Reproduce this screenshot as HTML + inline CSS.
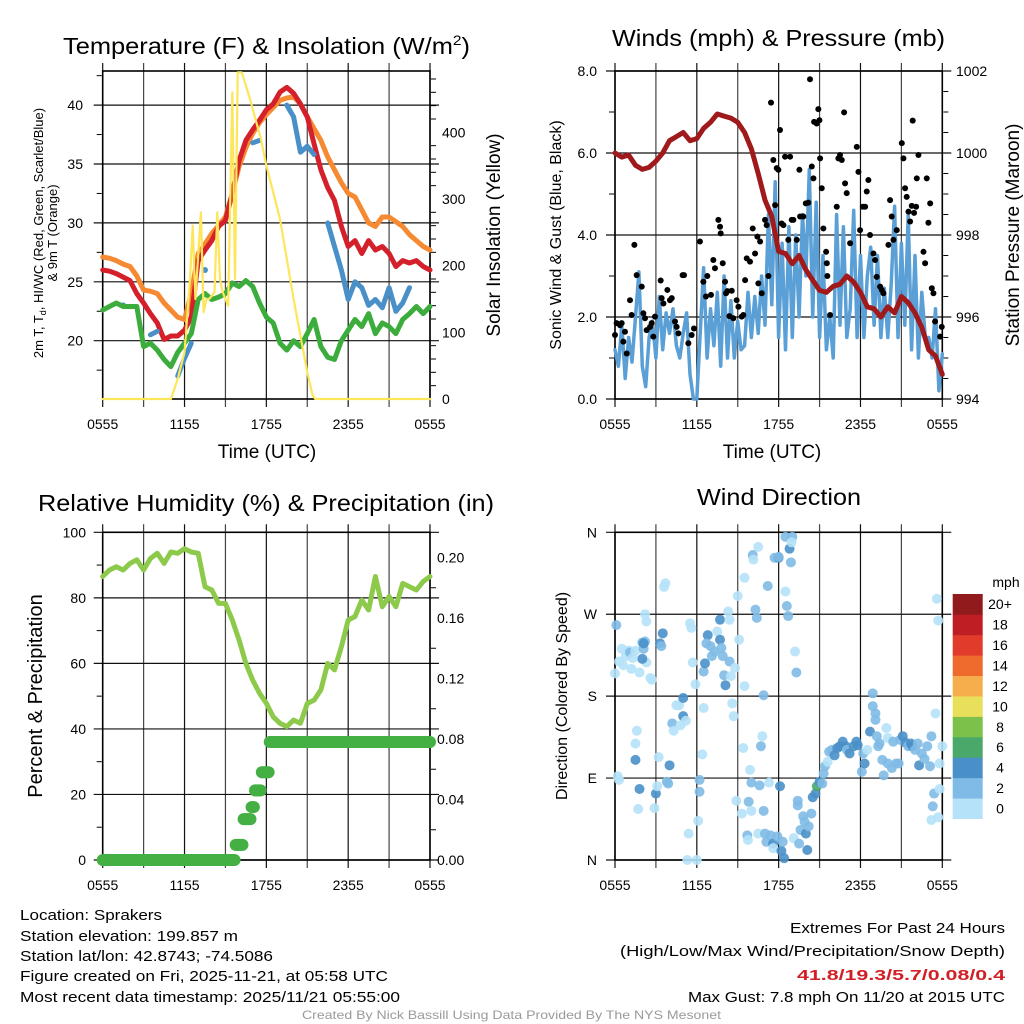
<!DOCTYPE html>
<html><head><meta charset="utf-8">
<style>
html,body{margin:0;padding:0;background:#fff;}
svg{display:block;font-family:"Liberation Sans",Arial,sans-serif;}
</style></head>
<body>
<svg id="chart" width="1024" height="1024" viewBox="0 0 1024 1024" xmlns="http://www.w3.org/2000/svg">
<rect x="0" y="0" width="1024" height="1024" fill="#fff"/>
<!-- Titles -->
<text x="63" y="54" font-size="23" textLength="407" lengthAdjust="spacingAndGlyphs">Temperature (F) &amp; Insolation (W/m<tspan font-size="14" dy="-9">2</tspan><tspan dy="9">)</tspan></text>
<text x="612" y="46" font-size="23" textLength="333" lengthAdjust="spacingAndGlyphs">Winds (mph) &amp; Pressure (mb)</text>
<text x="38" y="511" font-size="23" textLength="456" lengthAdjust="spacingAndGlyphs">Relative Humidity (%) &amp; Precipitation (in)</text>
<text x="697" y="505" font-size="23" textLength="164" lengthAdjust="spacingAndGlyphs">Wind Direction</text>
<!-- axis titles -->
<text x="267" y="458" font-size="19" text-anchor="middle">Time (UTC)</text>
<text x="772" y="458" font-size="19" text-anchor="middle">Time (UTC)</text>
<g transform="translate(43,233) rotate(-90)">
<text x="0" y="0" font-size="13" text-anchor="middle">2m T, T<tspan font-size="9" dy="3">d</tspan><tspan dy="-3">, HI/WC (Red, Green, Scarlet/Blue)</tspan></text>
<text x="0" y="14" font-size="13" text-anchor="middle">&amp; 9m T (Orange)</text>
</g>
<text transform="translate(500,235) rotate(-90)" font-size="19" text-anchor="middle">Solar Insolation (Yellow)</text>
<text transform="translate(561,235) rotate(-90)" font-size="16" text-anchor="middle">Sonic Wind &amp; Gust (Blue, Black)</text>
<text transform="translate(1019,235) rotate(-90)" font-size="19" text-anchor="middle">Station Pressure (Maroon)</text>
<text transform="translate(42,696) rotate(-90)" font-size="20" text-anchor="middle">Percent &amp; Precipitation</text>
<text transform="translate(567,696) rotate(-90)" font-size="16" text-anchor="middle">Direction (Colored By Speed)</text>
<!-- footer -->
<g font-size="15">
<text x="20" y="920" textLength="142" lengthAdjust="spacingAndGlyphs">Location: Sprakers</text>
<text x="20" y="941" textLength="218" lengthAdjust="spacingAndGlyphs">Station elevation: 199.857 m</text>
<text x="20" y="961" textLength="253" lengthAdjust="spacingAndGlyphs">Station lat/lon: 42.8743; -74.5086</text>
<text x="20" y="981" textLength="368" lengthAdjust="spacingAndGlyphs">Figure created on Fri, 2025-11-21, at 05:58 UTC</text>
<text x="20" y="1002" textLength="380" lengthAdjust="spacingAndGlyphs">Most recent data timestamp: 2025/11/21 05:55:00</text>
</g>
<g font-size="15">
<text x="790" y="933" textLength="215" lengthAdjust="spacingAndGlyphs">Extremes For Past 24 Hours</text>
<text x="620" y="956" textLength="385" lengthAdjust="spacingAndGlyphs">(High/Low/Max Wind/Precipitation/Snow Depth)</text>
<text x="797" y="980" textLength="208" lengthAdjust="spacingAndGlyphs" fill="#d02026" font-weight="bold">41.8/19.3/5.7/0.08/0.4</text>
<text x="688" y="1002" textLength="317" lengthAdjust="spacingAndGlyphs">Max Gust: 7.8 mph On 11/20 at 2015 UTC</text>
</g>
<text x="302" y="1019" font-size="12" fill="#9a9a9a" textLength="419" lengthAdjust="spacingAndGlyphs">Created By Nick Bassill Using Data Provided By The NYS Mesonet</text>
</svg>
<script>
// ---------- DATA ----------
const timeLabels = ["0555","1155","1755","2355","0555"];
// half-hourly series, hours 0..24
const tempRed = [26,25.9,25.7,25.4,25.1,24,23.2,22.3,21.5,20.1,20.4,20.4,20.9,22,26.8,27.7,28.5,29.7,30.2,32.5,35.3,37,37.9,38.7,39.6,40.1,41.1,41.5,41,40.1,39,36.7,34.5,33,31.9,29.7,28,28.5,27.4,28.5,27.7,28,27.4,26.3,26.8,26.6,26.8,26.3,26];
const tempOrange = [27.1,27.0,26.8,26.5,26.3,25.5,24.3,24.2,24,23.2,22.6,22.0,21.8,24,27.4,28.2,29.1,29.8,30.5,32.5,34.8,36.4,37.6,38.5,39.2,39.8,40.4,40.6,40.7,40.1,39,38,37,35.6,34.5,33.4,32.5,32.2,31.1,30,29.7,30.5,30.5,30.1,29.7,29,28.5,28,27.7];
const tempBlue = [null,null,null,23,null,null,null,20.5,20.8,null,null,17,18.5,19.8,null,26,null,null,null,null,null,null,36.8,37,null,null,null,40,39,36,36.5,35.8,null,30,28,26,23.5,25,24.5,23,23.5,22.8,24.5,22.5,23.2,24.5,null,null,null];
const tempGreen = [22.6,22.9,23.2,22.9,22.9,22.9,19.5,19.8,19.2,18.4,17.8,19,19.8,20.6,23.5,24,23.5,23.7,24,24.9,24.6,25.1,24.6,23.2,22,21.5,19.8,19.2,20,19.5,20.6,21.8,19.5,18.6,18.4,20,20.9,21.8,21.2,22.3,20.6,21.5,21.2,20.6,21.8,22.3,22.9,22.3,22.9];
const solarT = [0,5,5.5,6,6.4,6.6,6.8,7.2,7.4,7.6,7.8,8.2,8.4,8.6,8.8,9.2,9.5,9.7,9.9,10.2,10.5,10.8,11.2,11.6,12,12.5,13,13.5,14,14.5,15,15.4,15.6,24];
const solarV = [0,0,30,70,180,260,150,280,130,150,150,160,280,180,160,140,460,180,490,490,470,450,420,390,350,310,270,210,150,95,40,5,0,0];
const tempTicks = [20,25,30,35,40];
const solarTicks = [0,100,200,300,400];

const windSpeed = [1.2,0.8,1.8,0.5,1.5,0.9,2.0,3.1,0.8,0.3,1.5,1.9,1.0,2.5,1.2,2.1,1.6,2.2,1.3,1.0,1.6,2.1,0.6,0.0,0.0,1.6,3.2,1.0,2.2,1.3,2.6,0.8,3.0,1.0,2.4,1.0,1.9,1.2,1.3,2.6,1.5,2.5,1.6,3.0,1.8,4.5,2.3,5.3,1.5,3.8,1.2,4.2,1.5,4.0,2.0,4.5,3.0,5.6,2.0,4.8,1.5,3.5,1.2,2.0,1.0,4.5,1.8,4.2,1.5,2.2,4.6,1.5,3.5,1.5,3.0,3.7,1.8,3.5,1.5,2.7,1.5,2.8,4.7,1.5,3.8,1.8,4.5,1.2,3.5,1.0,2.6,1.5,1.5,1.0,2.2,0.2,1.1];
const gustH = [0,0.12,0.37,0.49,0.61,0.73,0.86,1.10,1.22,1.42,1.59,1.96,2.08,2.20,2.32,2.57,2.69,2.81,2.93,3.35,3.42,3.55,3.84,4.03,4.16,4.40,4.52,4.65,4.96,5.06,5.38,5.62,5.79,6.23,6.48,6.67,6.77,7.04,7.21,7.33,7.58,7.70,7.75,7.90,8.07,8.14,8.24,8.39,8.56,8.68,8.92,9.05,9.29,9.41,9.54,9.66,9.90,10.10,10.27,10.44,10.51,10.64,10.76,11.00,11.12,11.25,11.44,11.61,11.74,11.86,11.98,12.10,12.22,12.35,12.47,12.71,12.84,12.96,13.08,13.33,13.52,13.57,13.81,13.99,14.18,14.30,14.43,14.55,14.60,14.79,14.91,14.99,15.04,15.16,15.28,15.48,15.53,15.57,15.77,16.26,16.38,16.50,16.63,16.80,16.87,16.99,17.24,17.73,17.85,17.97,18.17,18.34,18.46,18.58,18.70,18.95,19.07,19.19,19.44,19.56,19.68,20.05,20.17,20.29,20.42,20.66,21.03,21.15,21.27,21.39,21.52,21.64,21.76,21.83,21.93,22.08,22.13,22.25,22.62,22.74,22.86,22.98,23.11,23.23,23.35,23.47,23.84,23.96];
const gustMph = [1.56,1.85,1.80,1.85,1.40,1.64,1.11,2.41,2.05,3.76,3.02,2.74,2.09,1.97,1.68,1.76,1.85,1.52,2.01,2.89,2.46,2.33,2.66,2.41,2.46,1.89,1.76,1.60,3.02,3.02,1.36,1.56,1.72,3.84,2.86,2.50,3.00,2.54,3.39,3.19,4.37,4.20,4.04,3.31,2.86,2.58,2.63,2.02,2.64,1.97,2.41,2.25,2.01,2.05,2.90,3.43,3.35,4.16,3.55,3.96,2.82,3.84,2.58,4.37,4.24,3.00,7.23,5.83,4.73,5.63,5.59,6.56,4.28,4.24,5.91,3.88,5.91,4.37,4.37,3.88,5.59,4.45,4.45,4.77,4.79,7.80,5.67,5.38,6.76,6.72,7.07,6.80,5.87,5.14,4.16,3.59,3.31,3.00,2.05,4.69,5.87,5.95,5.83,6.99,5.26,5.02,3.80,6.15,5.54,4.12,4.69,4.69,5.06,5.34,4.00,3.55,3.39,2.98,2.74,2.66,2.58,3.76,4.85,4.45,3.88,4.12,6.24,5.87,5.14,4.93,4.57,4.33,4.71,6.79,4.54,4.69,5.38,5.95,3.59,3.31,5.38,4.30,4.77,2.70,2.58,1.89,1.52,1.76];
const pressure = [1000,999.9,999.95,999.7,999.6,999.65,999.8,1000,1000.3,1000.4,1000.5,1000.3,1000.35,1000.6,1000.75,1000.95,1000.9,1000.85,1000.75,1000.5,1000.1,999.5,998.85,998.45,997.6,997.55,997.3,997.5,997.15,996.9,996.65,996.6,996.75,996.8,997,996.85,996.6,996.25,996.2,996,996.25,996.1,996.5,996.35,996.1,995.75,995.2,995.05,994.6];
const windTicks = ["0.0","2.0","4.0","6.0","8.0"];
const presTicks = [994,996,998,1000,1002];

const rh = [86.5,88.5,89.5,88.5,90.5,91.6,88.5,92,93.6,90.5,94,93.6,95,94,93.6,83.4,82.4,78.3,78.3,73.2,67.1,60,54.9,50.9,47.8,43.7,41.7,40.7,42.7,41.7,47.8,48.8,51.9,60,58,65.1,73.2,74.3,79.3,76.3,86.5,77.3,80.4,77.3,84.4,83.4,82.4,85,86.5];
const precipT = [0,9.7,10.3,10.9,11.15,11.6,12.2];
const precipV = [0,0.01,0.027,0.035,0.046,0.058,0.078];
const rhTicks = [0,20,40,60,80,100];
const precipTicks = ["0.00","0.04","0.08","0.12","0.16","0.20"];

const wdH = [0.1,0.0,0.3,0.5,0.6,0.8,1.0,1.2,1.1,1.5,1.8,2.1,2.2,2.3,2.6,2.7,2.3,2.2,2.0,2.1,2.0,0.2,0.3,1.3,1.6,1.5,1.5,1.8,1.7,2.9,3.0,3.1,3.2,4.0,3.8,3.9,3.3,3.5,3.4,3.7,3.6,4.2,4.3,4.5,4.7,5.0,5.0,5.2,4.8,5.5,5.6,5.7,5.9,5.4,5.3,6.0,6.1,6.2,6.2,6.4,6.5,6.5,6.6,6.8,6.7,7.0,7.1,7.3,7.5,7.7,7.7,7.8,7.9,8.0,8.1,8.4,8.3,8.4,8.5,8.6,8.7,8.8,8.9,9.0,9.1,9.3,9.4,9.5,9.5,9.8,9.7,9.75,9.9,10.0,10.0,10.1,10.15,10.3,10.4,10.5,10.5,10.6,10.7,10.8,10.9,10.9,11.0,11.1,11.2,11.3,11.4,11.6,11.6,11.7,11.9,12.0,12.1,12.0,12.2,12.3,12.4,12.5,12.5,12.6,12.7,12.8,12.9,13.0,12.95,13.1,13.2,13.3,13.4,13.4,13.5,13.6,13.8,13.9,14.0,14.1,14.2,14.4,14.5,14.7,14.8,15.0,15.2,15.3,15.4,15.6,15.7,15.9,16.1,16.3,16.5,16.7,16.9,17.0,17.2,17.5,17.7,17.8,18.1,18.2,18.3,18.5,18.7,18.9,18.9,19.1,19.1,19.2,19.3,19.4,19.6,19.7,19.9,20.0,20.0,20.3,20.4,20.6,20.8,20.9,21.1,21.3,21.5,21.7,21.8,22.0,22.2,22.3,22.5,22.7,22.9,23.1,23.2,23.5,23.8,24.0,23.4,23.3,23.2,23.7,23.8,23.6,23.7];
const wdDeg = [258,205,218,232,214,224,230,210,228,230,206,232,240,217,200,198,262,270,239,238,221,92,88,222,142,128,110,78,56,57,73,81,113,104,86,84,238,249,235,304,300,150,142,170,170,178,158,153,148,260,255,217,193,29,0,0,43,88,75,116,167,207,216,247,238,235,224,229,251,264,242,233,224,203,192,264,273,218,202,172,158,211,65,290,242,51,123,191,310,64,27,22,99,85,54,335,330,275,266,344,29,82,125,136,181,54,29,20,301,85,27,18,13,332,26,332,81,333,10,20,2,355,295,279,268,342,327,355,349,24,229,206,65,60,18,33,48,42,29,11,37,51,69,73,81,86,84,95,103,108,119,121,115,123,125,130,125,121,117,125,130,126,97,117,106,121,141,183,169,161,154,136,125,128,110,93,145,134,106,101,130,106,106,132,136,129,125,128,125,121,128,104,117,111,125,103,136,161,106,125,73,59,44,47,78,287,263];
const wdSpd = [3,1,1,1,1,1,1,1,3,1,1,3,3,1,1,1,1,1,3,5,5,1,1,1,1,1,5,5,1,1,5,1,1,5,3,3,5,5,3,1,1,3,1,1,1,5,5,1,1,1,1,1,1,1,1,1,1,3,3,1,1,3,5,5,3,3,3,3,1,5,5,3,3,3,5,1,1,3,1,1,1,1,1,1,1,1,1,1,1,3,3,1,1,3,1,3,1,3,3,1,1,3,3,1,3,3,3,3,3,1,3,5,1,3,3,5,5,3,5,3,5,3,1,3,3,5,3,3,1,1,1,3,3,3,3,3,3,3,5,5,3,3,5,5,7,5,3,3,3,1,3,3,5,5,5,5,5,3,5,5,5,5,3,3,5,1,5,3,3,3,3,3,3,3,3,3,1,1,3,3,3,3,3,3,5,5,3,5,5,3,3,5,3,3,3,3,3,1,1,1,3,3,1,1,1,1,1];
const cbLabels = ["0","2","4","6","8","10","12","14","16","18","20+"];
const cbColors = ["#b5e2f8","#7fbbe6","#4a90c8","#4aa86a","#7bc14a","#e8e05a","#f6ad4b","#ef6a2d","#e03b2b","#be1e24","#911a1c"];
const dirTicks = ["N","E","S","W","N"];

// ---------- DRAW ----------
const NS = "http://www.w3.org/2000/svg";
const svg = document.getElementById("chart");
function mk(tag, attrs, parent){ const e=document.createElementNS(NS,tag); for(const k in attrs) e.setAttribute(k,attrs[k]); (parent||svg).appendChild(e); return e; }
function txt(x,y,s,size,anchor,parent){ const t=mk("text",{x:x,y:y,"font-size":size,"text-anchor":anchor||"start"},parent); t.textContent=s; return t; }
const halfH = i => i*0.5;

function frame(name, x0,x1,y0,y1, hLines, g){
  const gg = mk("g",{},g);
  
  
  for(let k=0;k<=8;k++){ const x=x0+(x1-x0)*k/8; mk("line",{x1:x,y1:y0-8,x2:x,y2:y1+8,stroke:k%2?"#444":"#111","stroke-width":1.2},gg); }
  hLines.forEach(y=>mk("line",{x1:x0-9,y1:y,x2:x1+9,y2:y,stroke:"#111","stroke-width":1.2},gg));
  const r=mk("rect",{x:x0,y:y0,width:x1-x0,height:y1-y0,fill:"none",stroke:"#000","stroke-width":1.6},gg);
  
  
  timeLabels.forEach((s,i)=>{ const t=txt(x0+(x1-x0)*i/4, y1+30, s, 14, "middle", gg);
    
     });
}
function polyline(pts, color, w, name, g){
  const p=mk("polyline",{points:pts.map(q=>q[0].toFixed(1)+","+q[1].toFixed(1)).join(" "),fill:"none",stroke:color,"stroke-width":w,"stroke-linejoin":"round","stroke-linecap":"round"},g);
  
  
  return p;
}
function minorTicks(x, ys, dir, g){ ys.forEach(y=>mk("line",{x1:x,y1:y,x2:x+dir*5,y2:y,stroke:"#000","stroke-width":1},g)); }

// Panel 1
(function(){
  const g=mk("g",{});  
  const x0=102.7,x1=430,y0=71,y1=399;
  const X=h=>x0+(x1-x0)*h/24, TY=t=>340.7-(t-20)*11.78, SY=w=>399-w*0.6667;
  frame("temperature", x0,x1,y0,y1, tempTicks.map(TY), g);
  tempTicks.forEach(t=>{ const e=txt(83,TY(t)+5,String(t),14,"end",g);   });
  solarTicks.forEach(w=>{ const e=txt(442,SY(w)+5,String(w),14,"start",g);   });
  minorTicks(x0-1,[17.5,22.5,27.5,32.5,37.5,42.5].map(TY),-1,g);
  const sm=[]; for(let w=20;w<=480;w+=20) if(w%100) sm.push(SY(w)); minorTicks(x1+1,sm,1,g);
  polyline(tempOrange.map((v,i)=>[X(halfH(i)),TY(v)]),"#f68a33",5,"series-9m-temp-orange",g);
  polyline(tempRed.map((v,i)=>[X(halfH(i)),TY(v)]),"#d4202a",5,"series-2m-temp-red",g);
  let seg=[];
  const flush=()=>{ if(seg.length>1) polyline(seg,"#4a90c8",5,"series-windchill-blue",g); else if(seg.length==1){ const c=mk("circle",{cx:seg[0][0],cy:seg[0][1],r:3,fill:"#4a90c8"},g);   } seg=[]; };
  tempBlue.forEach((v,i)=>{ if(v===null) flush(); else seg.push([X(halfH(i)),TY(v)]); }); flush();
  polyline(tempGreen.map((v,i)=>[X(halfH(i)),TY(v)]),"#3cad3c",5,"series-dewpoint-green",g);
  polyline(solarT.map((h,i)=>[X(h),SY(solarV[i])]),"#fde65a",2.2,"series-solar-yellow",g);
})();

// Panel 2
(function(){
  const g=mk("g",{});  
  const x0=615,x1=942.3,y0=71,y1=399;
  const X=h=>x0+(x1-x0)*h/24, WY=m=>399-m*41, PY=p=>399-(p-994)*41;
  frame("wind", x0,x1,y0,y1, [0,2,4,6,8].map(WY), g);
  windTicks.forEach((s,i)=>{ const e=txt(597,WY(i*2)+5,s,14,"end",g);   });
  presTicks.forEach(p=>{ const e=txt(956,PY(p)+5,String(p),14,"start",g);   });
  minorTicks(x0-1,[1,3,5,7].map(WY),-1,g);
  minorTicks(x1+1,[994.5,995,995.5,996.5,997,997.5,998.5,999,999.5,1000.5,1001,1001.5].map(PY),1,g);
  polyline(windSpeed.map((v,i)=>[X(i*0.25),WY(v)]),"#5a9fd6",3.5,"series-sonic-wind-blue",g);
  gustH.forEach((h,i)=>{ const c=mk("circle",{cx:X(h),cy:WY(gustMph[i]),r:3,fill:"#000"},g);
    
     });
  polyline(pressure.map((v,i)=>[X(halfH(i)),PY(v)]),"#a01a1c",5,"series-pressure-maroon",g);
})();

// Panel 3
(function(){
  const g=mk("g",{});  
  const x0=102.7,x1=430,y0=532.3,y1=860;
  const X=h=>x0+(x1-x0)*h/24, RY=r=>860-r*3.277, PY=p=>860-p*1512.5;
  frame("humidity", x0,x1,y0,y1, rhTicks.map(RY), g);
  rhTicks.forEach(r=>{ const e=txt(86,RY(r)+5,String(r),14,"end",g);   });
  precipTicks.forEach((s,i)=>{ const e=txt(437,PY(i*0.04)+5,s,14,"start",g);   });
  minorTicks(x0-1,[10,30,50,70,90].map(RY),-1,g);
  minorTicks(x1+1,[0.02,0.06,0.1,0.14,0.18].map(PY),1,g);
  polyline(rh.map((v,i)=>[X(halfH(i)),RY(v)]),"#8dc94a",5,"series-relative-humidity",g);
  for(let t=0;t<=24.001;t+=1/12){
    let v=0; for(let k=0;k<precipT.length;k++) if(precipT[k]<=t) v=precipV[k];
    const c=mk("circle",{cx:X(t),cy:PY(v),r:6,fill:"#44b044"},g);
    
    
  }
})();

// Panel 4
(function(){
  const g=mk("g",{});  
  const x0=615,x1=942.3,y0=532.3,y1=860;
  const X=h=>x0+(x1-x0)*h/24, DY=d=>860-d*0.9103;
  frame("direction", x0,x1,y0,y1, [0,90,180,270,360].map(DY), g);
  dirTicks.forEach((s,i)=>{ const e=txt(597,DY(i*90)+5,s,14,"end",g);   });
  wdH.forEach((h,i)=>{ const s=wdSpd[i]; const idx=Math.min(10,Math.floor(s/2));
    const c=mk("circle",{cx:X(h),cy:DY(wdDeg[i]),r:5,fill:cbColors[idx],"fill-opacity":0.9},g);
    
     });
  const cb=mk("g",{},g);  
  const bx=952.7,bw=30,btop=594,bh=224.7/11;
  cbColors.forEach((col,i)=>{ const yy=btop+(10-i)*bh; mk("rect",{x:bx,y:yy,width:bw,height:bh+0.3,fill:col},cb);
    const t=txt(1000,yy+bh/2+5,cbLabels[i],14,"middle",cb);
    
     });
  const u=txt(1006,587,"mph",14,"middle",cb);  
})();
</script>
</body></html>
